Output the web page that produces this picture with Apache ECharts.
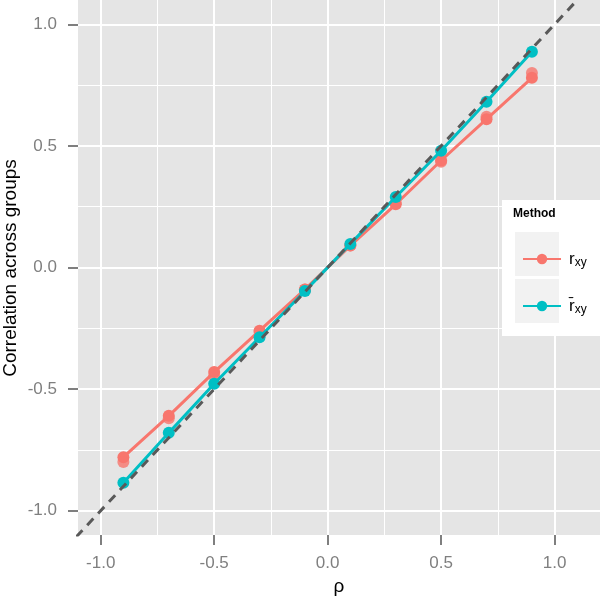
<!DOCTYPE html>
<html>
<head>
<meta charset="utf-8">
<script src="https://cdn.jsdelivr.net/npm/echarts@6/dist/echarts.min.js"></script>
<style>
  html, body { margin: 0; padding: 0; background: #fff; }
  #chart { width: 600px; height: 596px; }
</style>
</head>
<body>
<div id="chart"></div>
<script>
// rho values on x
var rho = [-0.9, -0.7, -0.5, -0.3, -0.1, 0.1, 0.3, 0.5, 0.7, 0.9];
// r_xy (two runs, nearly overlapping)
var rxyA = [-0.78, -0.61, -0.43, -0.26, -0.09, 0.09, 0.26, 0.44, 0.61, 0.78];
var rxyB = [-0.80, -0.62, -0.445, -0.265, -0.09, 0.09, 0.265, 0.435, 0.62, 0.80];
// r-bar_xy
var rbar = [-0.885, -0.68, -0.478, -0.287, -0.097, 0.097, 0.29, 0.48, 0.682, 0.887];
// tick labels / grid
var majorTicks = [-1, -0.5, 0, 0.5, 1];
var minorTicks = [-0.75, -0.25, 0.25, 0.75];
var diagonal = [-1.3, 1.3];

var zip = function (xs, ys) { return xs.map(function (x, i) { return [x, ys[i]]; }); };

var gridLines = [];
majorTicks.forEach(function (v) {
  gridLines.push({ xAxis: v, lineStyle: { width: 2 } });
  gridLines.push({ yAxis: v, lineStyle: { width: 2 } });
});
minorTicks.forEach(function (v) {
  gridLines.push({ xAxis: v, lineStyle: { width: 1 } });
  gridLines.push({ yAxis: v, lineStyle: { width: 1 } });
});

var RED = '#F8766D', CYAN = '#00BFC4', GREY = '#7f7f7f';

var axisCommon = {
  type: 'value',
  axisLine: { show: true, onZero: false, lineStyle: { color: 'rgba(0,0,0,0)' } },
  splitLine: { show: false },
  axisTick: { show: true, inside: false, length: 10, lineStyle: { color: GREY, width: 2 }, customValues: majorTicks },
  nameLocation: 'middle',
  nameTextStyle: { color: '#000', fontSize: 19, fontFamily: 'Liberation Sans' }
};
var labelStyle = function (margin) {
  return {
    color: GREY, fontSize: 17, fontFamily: 'Liberation Sans', margin: margin,
    customValues: majorTicks,
    formatter: function (v) { return v.toFixed(1); }
  };
};

var chart = echarts.init(document.getElementById('chart'));
chart.setOption({
  animation: false,
  grid: {
    left: 78, right: 0, top: 0, bottom: 61,
    outerBoundsMode: 'none', containLabel: false,
    show: true, backgroundColor: '#e5e5e5', borderWidth: 0
  },
  xAxis: Object.assign({}, axisCommon, { min: -1.1, max: 1.2, name: 'ρ', nameGap: 41, axisLabel: labelStyle(20) }),
  yAxis: Object.assign({}, axisCommon, { min: -1.1, max: 1.1, axisLabel: labelStyle(21) }),
  legend: {
    z: 60,
    orient: 'vertical',
    left: 517, top: 244,
    itemWidth: 38, itemHeight: 13, itemGap: 27,
    data: ['rxy', 'rbar'],
    formatter: function (n) { return n === 'rxy' ? '{m|r}{s|xy}' : '{m|r̄}{s|xy}'; },
    textStyle: {
      color: '#000', lineHeight: 20, padding: [0, 0, 0, 3],
      rich: {
        m: { fontSize: 17, fontFamily: 'Liberation Sans', color: '#000' },
        s: { fontSize: 12, fontFamily: 'Liberation Sans', color: '#000', padding: [8, 0, 0, 0] }
      }
    }
  },
  graphic: [
    // y axis title
    {
      type: 'text', x: 11, y: 268, rotation: Math.PI / 2,
      style: { text: 'Correlation across groups', font: '19px Liberation Sans', fill: '#000', align: 'center', verticalAlign: 'middle' }
    },
    { type: 'rect', shape: { x: 502, y: 200, width: 98, height: 136 }, style: { fill: '#fff' }, z: 50 },
    { type: 'text', x: 513, y: 208, style: { text: 'Method', font: 'bold 12px Liberation Sans', fill: '#000' }, z: 51 },
    { type: 'rect', shape: { x: 515, y: 232, width: 44, height: 44 }, style: { fill: '#f2f2f2' }, z: 51 },
    { type: 'rect', shape: { x: 515, y: 279, width: 44, height: 44 }, style: { fill: '#f2f2f2' }, z: 51 }
  ],
  series: [
    {
      name: 'grid', type: 'line', data: [], silent: true, z: 1,
      markLine: { z: 1, silent: true, symbol: 'none', label: { show: false }, lineStyle: { color: '#fff', type: 'solid' }, data: gridLines }
    },
    {
      name: 'rxy', type: 'line', data: zip(rho, rxyA), z: 3,
      color: RED, symbol: 'circle', symbolSize: 12, showSymbol: true,
      lineStyle: { width: 3, color: RED }, itemStyle: { color: RED }
    },
    {
      name: 'rxyB', type: 'scatter', data: zip(rho, rxyB), z: 3,
      symbol: 'circle', symbolSize: 12, itemStyle: { color: RED }
    },
    {
      name: 'rbar', type: 'line', data: zip(rho, rbar), z: 4,
      color: CYAN, symbol: 'circle', symbolSize: 12, showSymbol: true,
      lineStyle: { width: 3, color: CYAN }, itemStyle: { color: CYAN }
    },
    {
      name: 'identity', type: 'line', data: zip(diagonal, diagonal), z: 5,
      symbol: 'none', silent: true,
      lineStyle: { color: '#595959', width: 3, type: [9, 7] }
    }
  ]
});
</script>
</body>
</html>
